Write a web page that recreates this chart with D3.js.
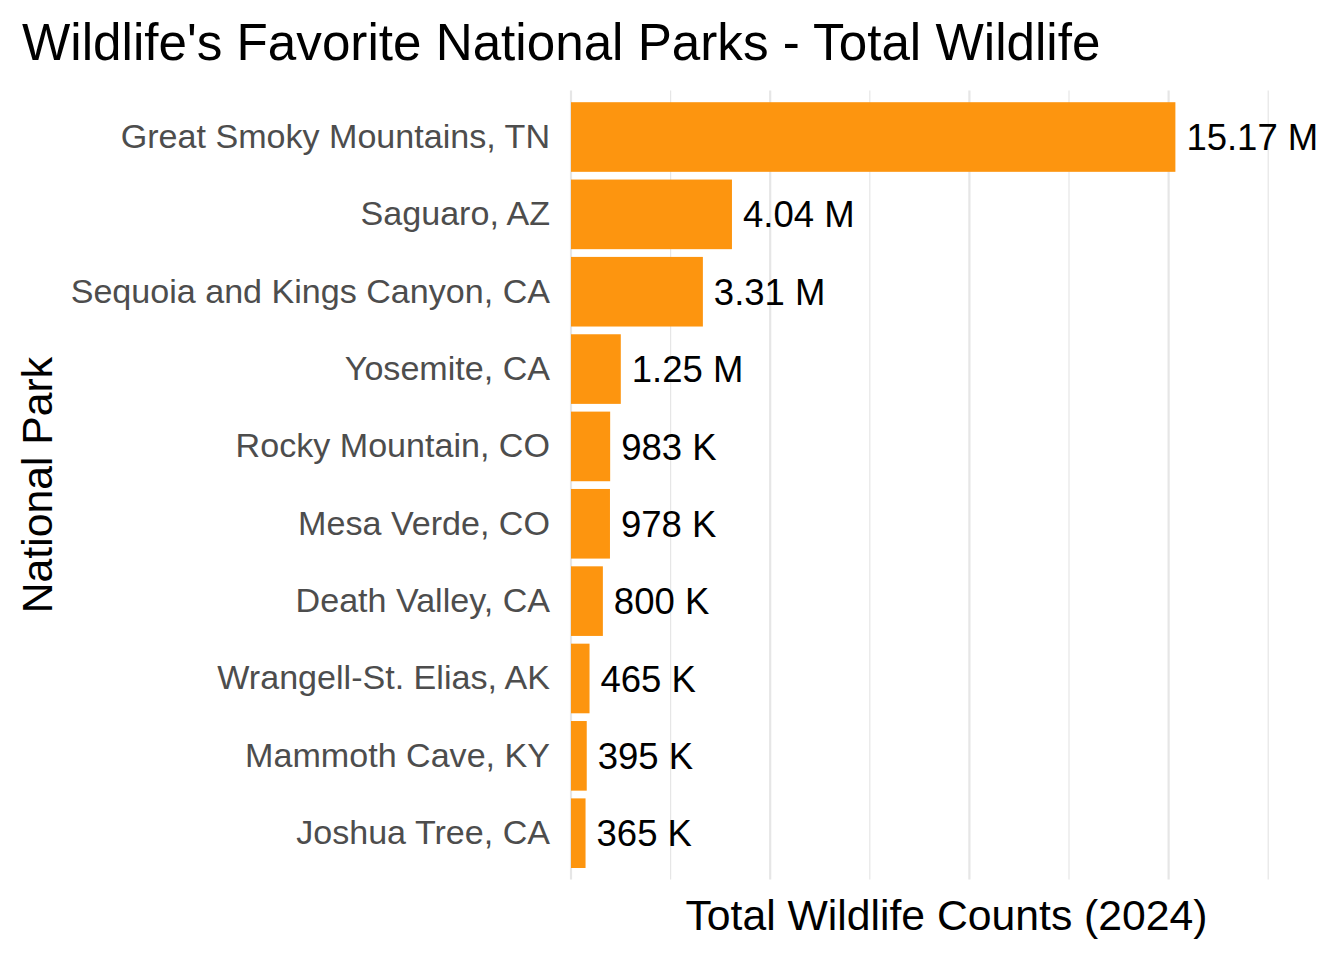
<!DOCTYPE html>
<html>
<head>
<meta charset="utf-8">
<script src="https://cdn.jsdelivr.net/npm/d3@7"></script>
<style>
  html, body { margin: 0; padding: 0; background: #ffffff; }
  svg { display: block; font-family: "Liberation Sans", Arial, sans-serif; }
</style>
</head>
<body>
<svg id="chart" width="1344" height="960"></svg>
<script>
// ---- Data ----
const parks = [
  "Great Smoky Mountains, TN",
  "Saguaro, AZ",
  "Sequoia and Kings Canyon, CA",
  "Yosemite, CA",
  "Rocky Mountain, CO",
  "Mesa Verde, CO",
  "Death Valley, CA",
  "Wrangell-St. Elias, AK",
  "Mammoth Cave, KY",
  "Joshua Tree, CA"
];
const totals = [15170000, 4040000, 3310000, 1250000, 983000, 978000, 800000, 465000, 395000, 365000];
const majorTicks = [0, 5e6, 10e6, 15e6];
const minorTicks = [2.5e6, 7.5e6, 12.5e6, 17.5e6];
const titleText = "Wildlife's Favorite National Parks - Total Wildlife";
const xTitle = "Total Wildlife Counts (2024)";
const yTitle = "National Park";

const fmt = v => v >= 1e6 ? (v / 1e6).toFixed(2) + " M" : Math.round(v / 1e3) + " K";

// ---- Layout ----
const W = 1344, H = 960;
const margin = { top: 90.6, right: 22, bottom: 80.4, left: 571 };
const pw = W - margin.left - margin.right;
const ph = H - margin.top - margin.bottom;

const svg = d3.select("#chart");

const x = d3.scaleLinear().domain([0, 18.85e6]).range([0, pw]);
const y = d3.scaleBand().domain(parks).range([0, ph]).paddingInner(0.1).paddingOuter(0.15);

const g = svg.append("g").attr("transform", `translate(${margin.left},${margin.top})`);

// Gridlines
g.selectAll("line.minor").data(minorTicks).enter().append("line")
  .attr("class", "minor")
  .attr("x1", d => x(d)).attr("x2", d => x(d))
  .attr("y1", 0).attr("y2", ph)
  .attr("stroke", "#E6E6E6").attr("stroke-width", 1.2);
g.selectAll("line.major").data(majorTicks).enter().append("line")
  .attr("class", "major")
  .attr("x1", d => x(d)).attr("x2", d => x(d))
  .attr("y1", 0).attr("y2", ph)
  .attr("stroke", "#E6E6E6").attr("stroke-width", 2.2);

// Bars
const data = parks.map((p, i) => ({ park: p, value: totals[i] }));
g.selectAll("rect.bar").data(data).enter().append("rect")
  .attr("class", "bar")
  .attr("x", x(0))
  .attr("y", d => y(d.park))
  .attr("width", d => x(d.value) - x(0))
  .attr("height", y.bandwidth())
  .attr("fill", "#FD950F");

// Value labels
g.selectAll("text.val").data(data).enter().append("text")
  .attr("class", "val")
  .attr("x", d => x(d.value) + 11)
  .attr("y", d => y(d.park) + y.bandwidth() / 2)
  .attr("dy", "0.36em")
  .attr("font-size", 36.5)
  .attr("fill", "#000000")
  .text(d => fmt(d.value));

// Y axis (labels only)
const yAxis = d3.axisLeft(y).tickSize(0).tickPadding(21);
const ya = g.append("g").call(yAxis);
ya.select(".domain").remove();
ya.selectAll("text")
  .attr("font-size", 34.1)
  .attr("font-family", "Liberation Sans, Arial, sans-serif")
  .attr("fill", "#4D4D4D");

// Title
svg.append("text")
  .attr("x", 22).attr("y", 60)
  .attr("font-size", 51.2)
  .attr("fill", "#000")
  .text(titleText);

// X axis title
svg.append("text")
  .attr("x", margin.left + pw / 2).attr("y", 930)
  .attr("text-anchor", "middle")
  .attr("font-size", 42.7)
  .attr("fill", "#000")
  .text(xTitle);

// Y axis title
svg.append("text")
  .attr("transform", `translate(52,${margin.top + ph / 2}) rotate(-90)`)
  .attr("text-anchor", "middle")
  .attr("font-size", 42.7)
  .attr("fill", "#000")
  .text(yTitle);
</script>
</body>
</html>
